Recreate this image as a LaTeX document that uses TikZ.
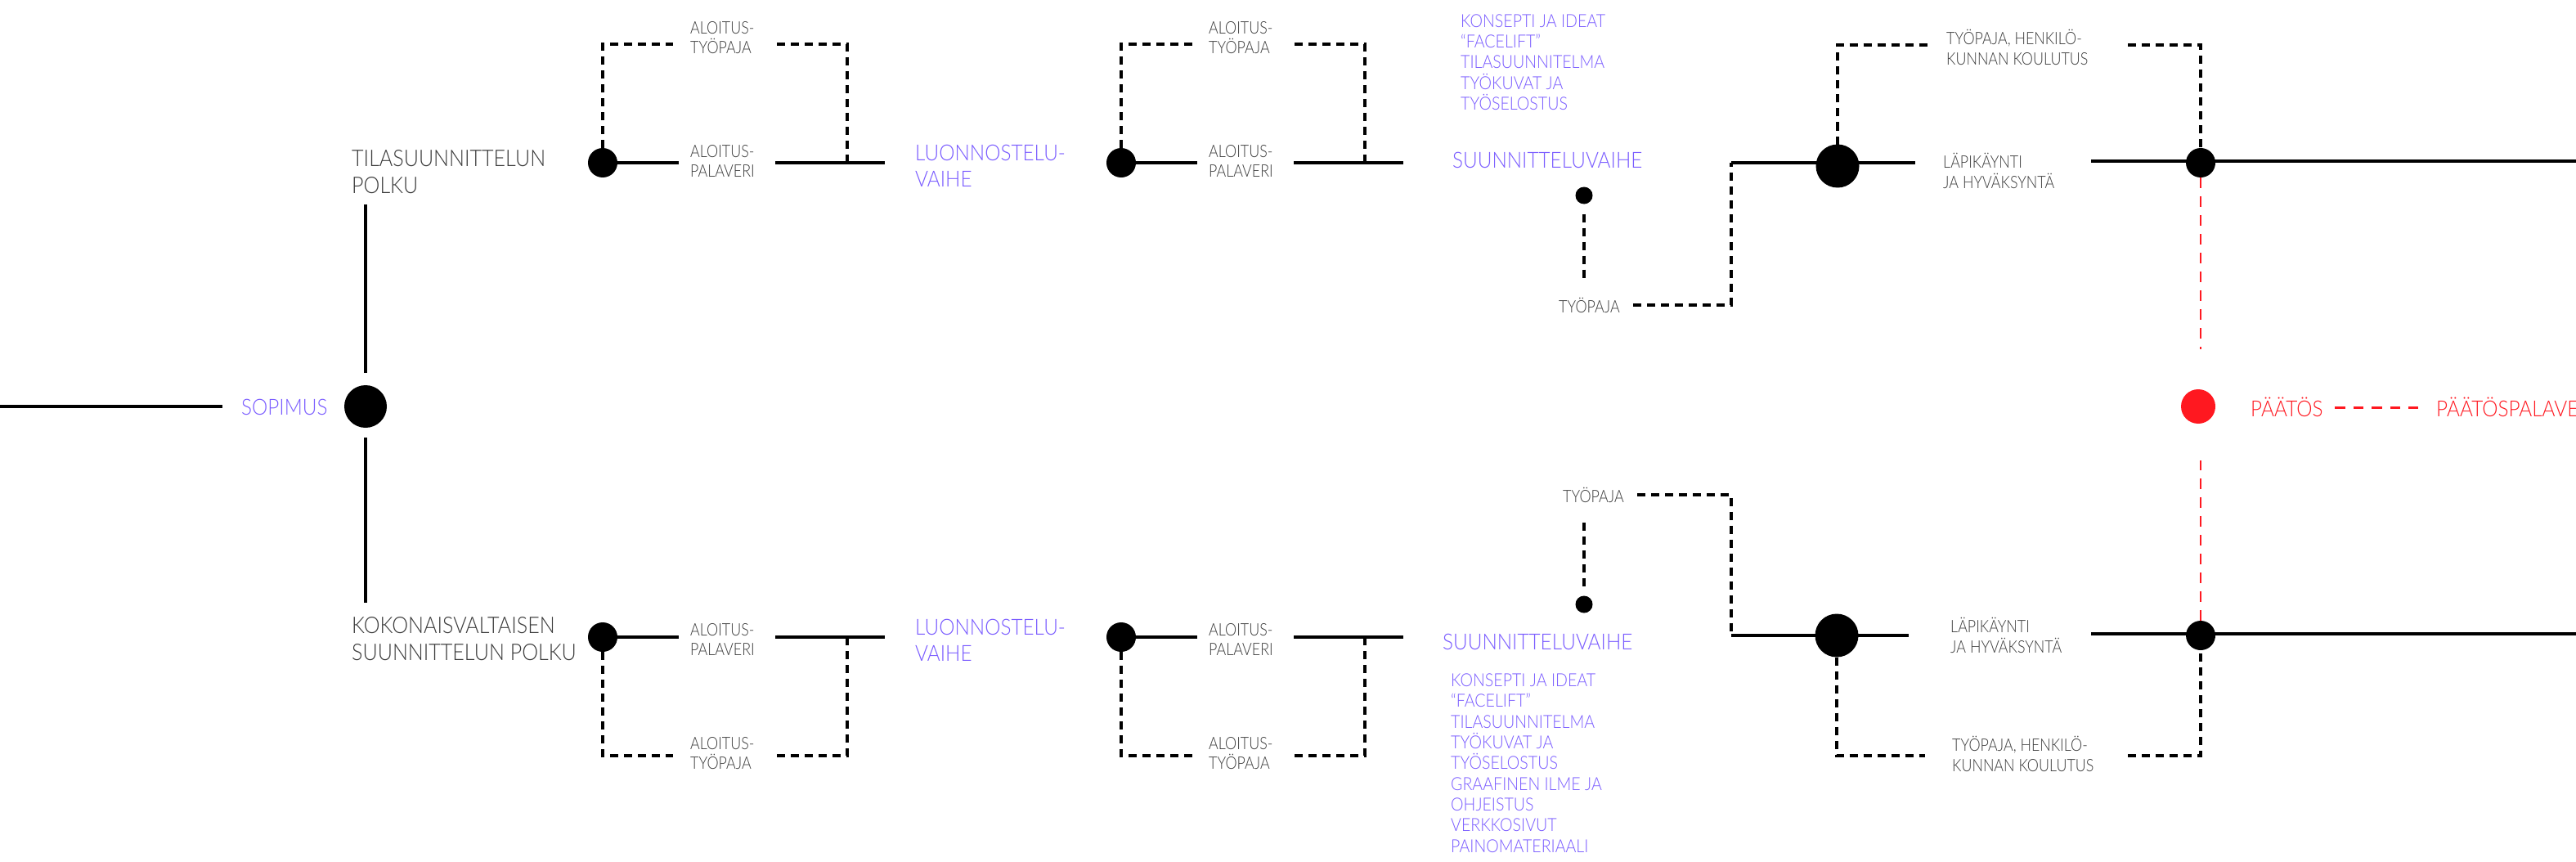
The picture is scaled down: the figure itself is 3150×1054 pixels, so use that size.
\documentclass[tikz,border=0pt]{standalone}
\usepackage{fontspec}
\setmainfont{Lato}[UprightFont={* Light},FakeStretch=0.85]
\newfontfamily\bigf{Lato}[UprightFont={* Light},FakeStretch=0.9]
\newfontfamily\leftf{Lato}[UprightFont={* Light},FakeStretch=0.895]
\newfontfamily\listf{Lato}[UprightFont={* Light},FakeStretch=0.89]
\definecolor{purp}{RGB}{122,92,255}
\definecolor{txtgray}{RGB}{60,60,60}
\definecolor{redc}{RGB}{255,24,32}
\tikzset{
 solidline/.style={line width=3.1pt, black},
 dashline/.style={line width=3.4pt, black, dash pattern=on 10pt off 7pt},
 reddash/.style={line width=2.2pt, redc, dash pattern=on 13pt off 10pt},
 reddashthick/.style={line width=3pt, redc, dash pattern=on 12.5pt off 10pt},
 dotbig/.style={circle, fill=black, minimum size=53pt, inner sep=0pt, outer sep=0pt},
 dotmid/.style={circle, fill=black, minimum size=36pt, inner sep=0pt, outer sep=0pt},
 dotsmall/.style={circle, fill=black, minimum size=21pt, inner sep=0pt, outer sep=0pt},
 bigtxt/.style={font=\bigf\fontsize{27}{32}\selectfont, align=left, anchor=west, inner sep=0pt},
 lefttxt/.style={font=\leftf\fontsize{28}{32.5}\selectfont, text=txtgray, align=left, anchor=west, inner sep=0pt},
 smalltxt/.style={font=\fontsize{21}{24.5}\selectfont, text=txtgray, align=left, anchor=west, inner ysep=0pt, inner xsep=14pt},
 listtxt/.style={font=\listf\fontsize{22}{25.3}\selectfont, text=purp, align=left, anchor=west, inner sep=0pt},
}
\begin{document}
\begin{tikzpicture}[x=1pt,y=-1pt]
\fill[white] (0,0) rectangle (3150,1054);
\useasboundingbox (0,0) rectangle (3150,1054);

% ---------- start ----------
\coordinate (lstart) at (0,497);
\node[bigtxt,text=purp] (sop) at (295,498) {SOPIMUS};
\node[dotbig, minimum size=52pt] (sopdot) at (447,497) {};
\node[lefttxt] (tila) at (430,210) {TILASUUNNITTELUN\\POLKU};
\node[lefttxt] (koko) at (430,781) {KOKONAISVALTAISEN\\SUUNNITTELUN POLKU};
\coordinate (tilabot) at (447,250);
\coordinate (kokotop) at (447,737);
\draw[solidline] (lstart) -- ([xshift=-23pt]sop.west |- lstart);
\draw[solidline] ([yshift=15pt]sopdot.north) -- (tilabot);
\draw[solidline] ([yshift=-12pt]sopdot.south) -- (kokotop);

% ---------- top branch, block A ----------
\node[dotmid] (dA) at (737,199) {};
\node[smalltxt] (palA) at (830,197) {ALOITUS-\\PALAVERI};
\node[smalltxt] (tyA) at (830,46) {ALOITUS-\\TYÖPAJA};
\coordinate (boxAl) at (823,54);
\coordinate (boxAr) at (950,54);
\coordinate (boxAc) at (1036,199);
\draw[solidline] (dA) -- (palA.west |- dA);
\draw[dashline] (dA) |- (boxAl);
\draw[dashline] (boxAr) -| (boxAc);
\node[bigtxt,text=purp] (luoT) at (1119,203) {LUONNOSTELU-\\VAIHE};
\coordinate (lineAs) at (948,199);
\draw[solidline] (lineAs) -- ([xshift=-37pt]luoT.west |- lineAs);

% ---------- top branch, block B ----------
\node[dotmid] (dB) at (1371,199) {};
\node[smalltxt] (palB) at (1464,197) {ALOITUS-\\PALAVERI};
\node[smalltxt] (tyB) at (1464,46) {ALOITUS-\\TYÖPAJA};
\coordinate (boxBl) at (1460,54);
\coordinate (boxBr) at (1583,54);
\coordinate (boxBc) at (1669,199);
\draw[solidline] (dB) -- (palB.west |- dB);
\draw[dashline] (dB) |- (boxBl);
\draw[dashline] (boxBr) -| (boxBc);
\node[bigtxt,text=purp] (suuT) at (1776,196) {SUUNNITTELUVAIHE};
\coordinate (lineBs) at (1582,199);
\draw[solidline] (lineBs) -- ([xshift=-60pt]suuT.west |- lineBs);
\node[listtxt] (listT) at (1786,76) {KONSEPTI JA IDEAT\\“FACELIFT”\\TILASUUNNITELMA\\TYÖKUVAT JA\\TYÖSELOSTUS};

% ---------- top branch, right part ----------
\node[dotsmall] (sdT) at (1937,239) {};
\node[smalltxt,inner xsep=0pt] (tpT) at (1906,373) {TYÖPAJA};
\coordinate (sdTe) at (1937,342);
\draw[dashline] ([yshift=-12pt]sdT.south) -- (sdTe);
\coordinate (jT) at (2117,199);
\draw[dashline] ([xshift=16pt]tpT.east) -| (jT);
\node[dotbig] (bdT) at (2247,203) {};
\coordinate (lTend) at (2342,199);
\draw[solidline] (jT) -- (lTend);
\node[smalltxt,inner xsep=0pt] (lapT) at (2376,209) {LÄPIKÄYNTI\\JA HYVÄKSYNTÄ};
\node[dotmid] (edT) at (2691,199) {};
\coordinate (rT) at (3150,197);
\coordinate (rTs) at (2557,197);
\draw[solidline] (rTs) -- (rT);
\node[smalltxt,inner xsep=0pt] (hkT) at (2380,58) {TYÖPAJA, HENKILÖ-\\KUNNAN KOULUTUS};
\coordinate (hkTl) at (2358,55);
\coordinate (hkTr) at (2602,55);
\draw[dashline] (bdT) |- (hkTl);
\draw[dashline] (hkTr) -| (edT);

% ---------- decision ----------
\node[circle, fill=redc, minimum size=42pt, inner sep=0pt] (rdot) at (2688,497) {};
\node[bigtxt,text=redc] (pat) at (2752,498) {PÄÄTÖS};
\node[bigtxt,text=redc] (patp) at (2979,498) {PÄÄTÖSPALAVERI};
\coordinate (rdT) at (2691,427);
\coordinate (rdB) at (2691,563);
\draw[reddashthick] (2855,498) coordinate (pdl) -- (2957,498) coordinate (pdr);

% ---------- bottom branch, block C ----------
\node[dotmid] (dC) at (737,779) {};
\node[smalltxt] (palC) at (830,782) {ALOITUS-\\PALAVERI};
\node[smalltxt] (tyC) at (830,921) {ALOITUS-\\TYÖPAJA};
\coordinate (boxCl) at (823,924);
\coordinate (boxCr) at (950,924);
\coordinate (boxCc) at (1036,779);
\draw[solidline] (dC) -- (palC.west |- dC);
\draw[dashline] (dC) |- (boxCl);
\draw[dashline] (boxCr) -| (boxCc);
\node[bigtxt,text=purp] (luoB) at (1119,783) {LUONNOSTELU-\\VAIHE};
\coordinate (lineCs) at (948,779);
\draw[solidline] (lineCs) -- ([xshift=-37pt]luoB.west |- lineCs);

% ---------- bottom branch, block D ----------
\node[dotmid] (dD) at (1371,779) {};
\node[smalltxt] (palD) at (1464,782) {ALOITUS-\\PALAVERI};
\node[smalltxt] (tyD) at (1464,921) {ALOITUS-\\TYÖPAJA};
\coordinate (boxDl) at (1460,924);
\coordinate (boxDr) at (1583,924);
\coordinate (boxDc) at (1669,779);
\draw[solidline] (dD) -- (palD.west |- dD);
\draw[dashline] (dD) |- (boxDl);
\draw[dashline] (boxDr) -| (boxDc);
\node[bigtxt,text=purp] (suuB) at (1764,785) {SUUNNITTELUVAIHE};
\coordinate (lineDs) at (1582,779);
\draw[solidline] (lineDs) -- ([xshift=-48pt]suuB.west |- lineDs);
\node[listtxt] (listB) at (1774,933) {KONSEPTI JA IDEAT\\“FACELIFT”\\TILASUUNNITELMA\\TYÖKUVAT JA\\TYÖSELOSTUS\\GRAAFINEN ILME JA\\OHJEISTUS\\VERKKOSIVUT\\PAINOMATERIAALI};

% ---------- bottom branch, right part ----------
\node[dotsmall] (sdB) at (1937,739) {};
\node[smalltxt,inner xsep=0pt] (tpB) at (1911,605) {TYÖPAJA};
\coordinate (sdBe) at (1937,637);
\draw[dashline] ([yshift=12pt]sdB.north) -- (sdBe);
\coordinate (jB) at (2117,777);
\draw[dashline] ([xshift=16pt]tpB.east) -| (jB);
\node[dotbig] (bdB) at (2246,777) {};
\coordinate (lBend) at (2334,777);
\draw[solidline] (jB) -- (lBend);
\node[smalltxt,inner xsep=0pt] (lapB) at (2385,777) {LÄPIKÄYNTI\\JA HYVÄKSYNTÄ};
\node[dotmid] (edB) at (2691,777) {};
\coordinate (rB) at (3150,775);
\coordinate (rBs) at (2557,775);
\draw[solidline] (rBs) -- (rB);
\node[smalltxt,inner xsep=0pt] (hkB) at (2387,922) {TYÖPAJA, HENKILÖ-\\KUNNAN KOULUTUS};
\coordinate (hkBl) at (2354,924);
\coordinate (hkBr) at (2602,924);
\draw[dashline] (bdB) |- (hkBl);
\draw[dashline] (hkBr) -| (edB);

% ---------- red connectors ----------
\draw[reddash] (edT) -- (rdT);
\draw[reddash] (edB) -- (rdB);
\end{tikzpicture}
\end{document}
